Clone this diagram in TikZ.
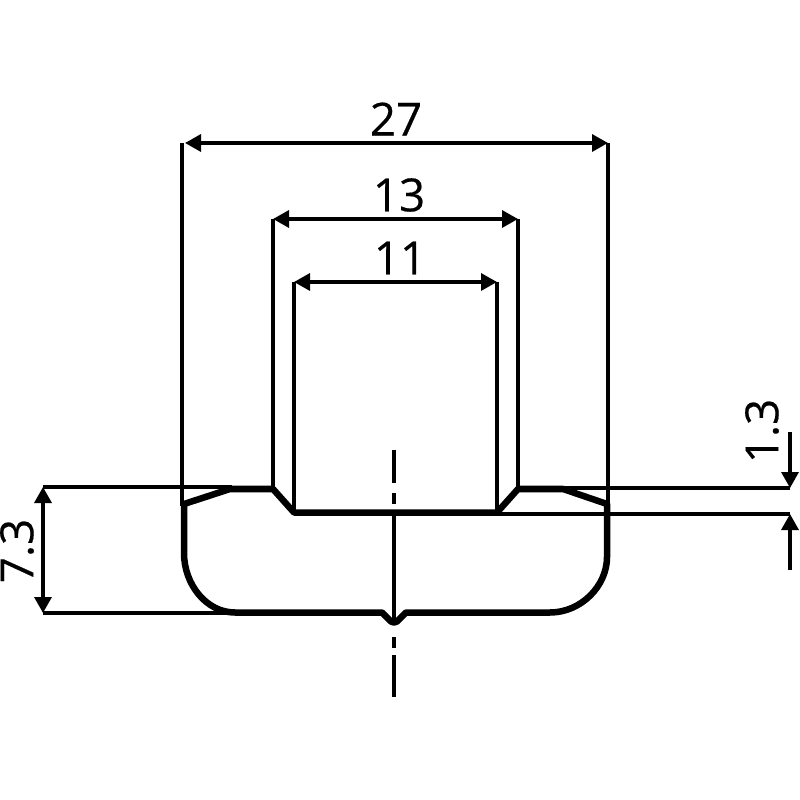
\documentclass[tikz,border=0pt]{standalone}
\usepackage{fontspec}
\setmainfont{Open Sans}
\usetikzlibrary{arrows.meta}
\tikzset{
  profile/.style={line width=1.85pt,line join=round},
  thin line/.style={line width=0.95pt},
  dimtip/.tip={Triangle[length=1.6mm,width=1.7mm]},
  dimline/.style={thin line,dimtip-dimtip},
  dimhead/.style={thin line,-dimtip},
  dimtext/.style={inner sep=0pt,font=\fontsize{13}{15}\selectfont\addfontfeature{FakeBold=0.4}}
}
\begin{document}
\begin{tikzpicture}[x=0.1mm,y=-0.1mm]
  \useasboundingbox (0,0) rectangle (800,800);
  \fill[white] (0,0) rectangle (800,800);
  % extension lines
  \coordinate (wl) at (182,143);
  \coordinate (wr) at (608,143);
  \coordinate (ol) at (273,219);
  \coordinate (or) at (518,219);
  \coordinate (il) at (294,282);
  \coordinate (ir) at (497,282);
  \coordinate (ht) at (43,487);
  \coordinate (hb) at (43,613);
  \coordinate (st) at (790,488);
  \coordinate (sb) at (790,514);
  \draw[thin line] (wl) -- (182,506);
  \draw[thin line] (wr) -- (608,506);
  \draw[thin line] (ol) -- (273,488);
  \draw[thin line] (or) -- (518,488);
  \draw[thin line] (il) -- (294,512);
  \draw[thin line] (ir) -- (497,512);
  \draw[thin line] (ht) -- (232,487);
  \draw[thin line] (hb) -- (235,613);
  \draw[thin line] (st) -- (562,488);
  \draw[thin line] (sb) -- (497,514);
  % profile
  \draw[profile] (184,504) -- (230,489) -- (273,489) -- (294,512.5) -- (497,512.5)
    -- (518,489) -- (563,489) -- (607,504) -- (607,557)
    .. controls (607,586) and (581,612.5) .. (550,612.5) -- (406,612.5)
    -- (397,621.5) -- (394,622.5) -- (391,621.5) -- (382,612.5) -- (235,612.5)
    .. controls (206,612.5) and (184,584) .. (184,553) -- cycle;
  % centre line
  \draw[thin line] (394,450) -- (394,483) (394,493) -- (394,504) (394,516) -- (394,620);
  \draw[thin line] (394,637) -- (394,648) (394,655) -- (394,697);
  % dimensions
  \draw[dimline,shorten <=0.3mm] (wl) -- (wr);
  \draw[dimline] (ol) -- (or);
  \draw[dimline] (il) -- (ir);
  \draw[dimline] (ht) -- (hb);
  \draw[dimhead] (790,432) -- (st);
  \draw[dimhead] (790,570) -- (sb);
  \node[dimtext] (w27) at (396,119) {27};
  \node[dimtext] (w13) at (399,195) {13};
  \node[dimtext] (w11) at (400,258) {11};
  \node[dimtext,rotate=90] (h73) at (17,551) {7.3};
  \node[dimtext,rotate=90] (h13) at (762,431) {1.3};
\end{tikzpicture}
\end{document}
